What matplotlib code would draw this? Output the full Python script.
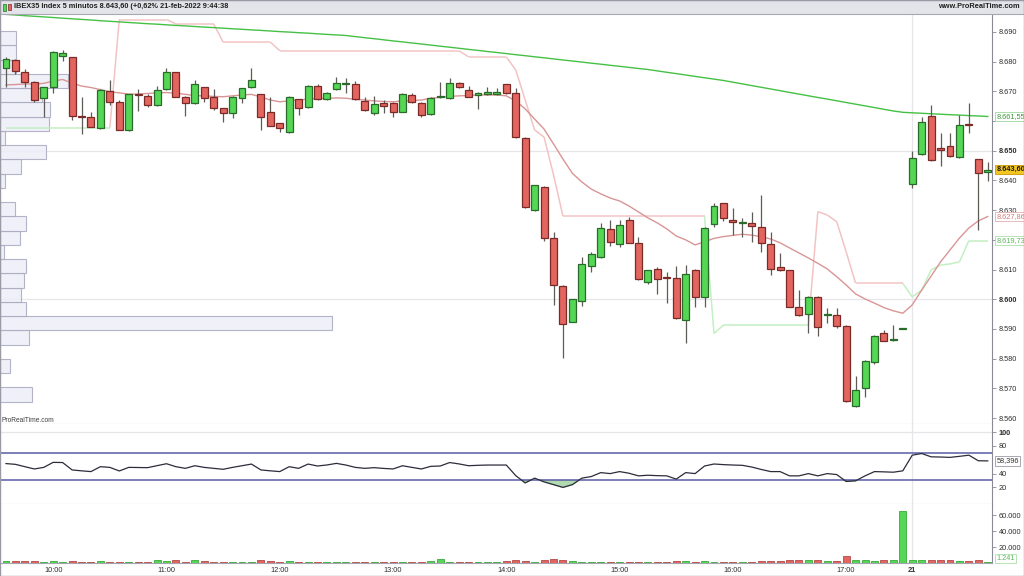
import matplotlib
matplotlib.use("Agg")
import matplotlib.pyplot as plt
import matplotlib.transforms as mtransforms
from matplotlib.patches import Rectangle
from matplotlib.collections import LineCollection
import numpy as np

# ---------------- data ----------------
opens = [8678.0, 8680.5, 8676.6, 8673.0, 8667.7, 8671.4, 8682.0, 8681.5, 8661.8, 8661.3,
         8657.6, 8670.2, 8666.3, 8657.0, 8669.2, 8668.5, 8665.4, 8670.7, 8676.4, 8668.2,
         8666.0, 8671.4, 8668.0, 8664.3, 8662.6, 8667.7, 8671.4, 8669.0, 8663.0, 8659.3,
         8656.4, 8667.4, 8664.6, 8671.8, 8667.3, 8670.7, 8672.5, 8672.5, 8666.9, 8662.6,
         8666.0, 8666.2, 8663.2, 8668.8, 8666.2, 8662.3, 8668.0, 8667.7, 8672.9, 8670.5,
         8668.8, 8669.0, 8669.1, 8672.4, 8669.4, 8654.4, 8629.9, 8637.9, 8620.5, 8604.6,
         8592.5, 8599.5, 8611.3, 8614.4, 8623.7, 8618.6, 8626.7, 8618.9, 8605.8, 8610.3,
         8607.5, 8607.1, 8593.0, 8609.7, 8600.9, 8625.3, 8632.3, 8626.7, 8625.8, 8625.8,
         8624.4, 8618.6, 8610.7, 8609.7, 8597.5, 8594.9, 8600.9, 8594.6, 8594.7, 8591.1,
         8564.2, 8570.0, 8579.0, 8588.8, 8586.2, 8590.0, 8638.7, 8648.9, 8661.7, 8650.8,
         8651.6, 8648.0, 8658.8, 8647.1, 8642.8]
highs = [8681.5, 8681.0, 8677.4, 8673.5, 8671.6, 8683.6, 8684.0, 8681.7, 8668.0, 8663.2,
         8670.7, 8673.8, 8667.1, 8669.1, 8670.7, 8669.0, 8671.8, 8677.8, 8676.6, 8668.5,
         8673.8, 8671.6, 8670.7, 8664.5, 8668.3, 8671.3, 8677.8, 8669.2, 8668.2, 8659.5,
         8668.3, 8667.6, 8672.0, 8672.4, 8669.8, 8675.0, 8674.4, 8673.6, 8668.2, 8668.5,
         8667.1, 8666.5, 8669.6, 8669.3, 8666.5, 8668.0, 8673.3, 8674.4, 8673.2, 8671.8,
         8669.8, 8671.4, 8671.0, 8672.6, 8671.0, 8654.5, 8638.6, 8638.0, 8622.6, 8604.8,
         8600.2, 8614.4, 8615.8, 8625.8, 8626.7, 8626.7, 8627.8, 8621.1, 8610.0, 8610.8,
         8609.1, 8611.2, 8611.5, 8610.2, 8624.2, 8632.3, 8632.5, 8630.6, 8627.3, 8629.3,
         8635.1, 8622.8, 8615.5, 8610.0, 8603.1, 8601.0, 8601.2, 8597.0, 8597.0, 8591.3,
         8574.2, 8579.5, 8588.0, 8589.7, 8591.3, 8590.0, 8649.9, 8661.3, 8665.4, 8655.9,
         8655.9, 8662.0, 8666.2, 8647.3, 8646.3]
lows = [8671.5, 8676.0, 8671.5, 8666.5, 8661.5, 8669.5, 8680.2, 8660.4, 8655.7, 8658.0,
        8657.5, 8665.4, 8657.0, 8656.8, 8663.5, 8664.8, 8665.2, 8670.5, 8668.0, 8661.7,
        8665.8, 8666.5, 8663.7, 8659.8, 8661.0, 8666.2, 8671.0, 8657.0, 8658.3, 8656.4,
        8656.0, 8662.0, 8664.4, 8667.0, 8667.0, 8670.5, 8669.4, 8667.0, 8663.5, 8662.0,
        8662.8, 8661.3, 8663.0, 8666.0, 8661.3, 8662.0, 8667.8, 8667.5, 8671.3, 8668.0,
        8664.0, 8668.8, 8668.8, 8669.0, 8654.3, 8630.8, 8629.7, 8619.7, 8598.0, 8580.1,
        8592.3, 8597.7, 8609.3, 8614.0, 8618.0, 8617.5, 8619.0, 8606.5, 8605.3, 8601.8,
        8598.6, 8593.4, 8585.4, 8597.5, 8597.3, 8624.2, 8626.5, 8621.6, 8621.1, 8619.4,
        8616.0, 8608.2, 8609.6, 8597.3, 8594.5, 8588.6, 8587.5, 8591.9, 8590.2, 8565.5,
        8563.8, 8567.2, 8578.1, 8586.0, 8586.0, 8590.0, 8637.4, 8648.5, 8646.5, 8645.0,
        8647.8, 8647.5, 8655.9, 8623.3, 8639.8]
closes = [8681.0, 8677.0, 8673.3, 8667.0, 8671.4, 8683.4, 8683.0, 8661.7, 8661.5, 8658.1,
          8670.5, 8666.3, 8657.0, 8669.0, 8669.0, 8665.4, 8670.5, 8676.4, 8668.2, 8666.0,
          8672.4, 8667.9, 8664.3, 8662.8, 8668.0, 8671.0, 8673.8, 8661.3, 8658.5, 8657.6,
          8668.0, 8664.3, 8671.8, 8667.3, 8669.6, 8672.7, 8672.8, 8667.3, 8663.7, 8665.6,
          8665.0, 8663.0, 8669.0, 8666.3, 8662.0, 8667.7, 8668.5, 8672.9, 8671.6, 8668.2,
          8669.4, 8669.8, 8669.8, 8669.4, 8654.5, 8631.0, 8638.4, 8620.5, 8604.8, 8591.7,
          8600.0, 8611.8, 8615.3, 8623.9, 8619.2, 8625.0, 8619.1, 8606.7, 8609.7, 8606.7,
          8607.3, 8593.6, 8608.5, 8600.9, 8623.9, 8631.4, 8627.3, 8625.9, 8625.9, 8624.7,
          8618.9, 8610.2, 8609.8, 8597.5, 8594.7, 8600.7, 8590.6, 8594.9, 8591.1, 8565.8,
          8569.5, 8579.3, 8587.8, 8586.1, 8586.4, 8590.0, 8647.5, 8659.7, 8646.8, 8650.2,
          8648.2, 8658.7, 8658.6, 8642.6, 8643.6]

ma_long = [8695.93, 8695.72, 8695.49, 8695.29, 8695.08, 8694.88, 8694.65, 8694.44, 8694.24, 8694.04,
           8693.80, 8693.60, 8693.40, 8693.20, 8693.00, 8692.79, 8692.63, 8692.42, 8692.22, 8692.05,
           8691.85, 8691.65, 8691.48, 8691.28, 8691.08, 8690.91, 8690.71, 8690.54, 8690.34, 8690.13,
           8689.97, 8689.76, 8689.60, 8689.39, 8689.19, 8689.02, 8688.82, 8688.45, 8688.08, 8687.74,
           8687.37, 8687.00, 8686.67, 8686.30, 8685.96, 8685.59, 8685.22, 8684.88, 8684.51, 8684.14,
           8683.80, 8683.43, 8683.10, 8682.73, 8682.36, 8682.02, 8681.65, 8681.31, 8680.94, 8680.57,
           8680.24, 8679.87, 8679.50, 8679.16, 8678.79, 8678.45, 8678.08, 8677.71, 8677.37, 8676.90,
           8676.43, 8675.99, 8675.52, 8675.05, 8674.58, 8674.14, 8673.67, 8673.10, 8672.53, 8671.95,
           8671.38, 8670.81, 8670.24, 8669.66, 8669.09, 8668.52, 8667.95, 8667.41, 8666.84, 8666.26,
           8665.69, 8665.12, 8664.55, 8663.97, 8663.40, 8662.96, 8662.79, 8662.63, 8662.46, 8662.32,
           8662.15, 8662.02, 8661.85, 8661.72, 8661.55]
ma_short = [8672.2, 8672.3, 8672.5, 8672.5, 8672.7, 8673.5, 8674.0, 8672.8, 8671.8, 8671.3,
            8670.6, 8669.9, 8669.5, 8669.1, 8669.1, 8669.3, 8669.5, 8669.6, 8669.4, 8669.0,
            8668.6, 8668.5, 8668.3, 8668.2, 8668.5, 8668.8, 8669.0, 8668.1, 8667.1, 8666.5,
            8666.8, 8667.1, 8667.4, 8667.6, 8667.7, 8667.8, 8667.7, 8667.3, 8667.1, 8666.8,
            8666.6, 8666.5, 8666.8, 8666.9, 8667.1, 8667.7, 8668.0, 8668.3, 8668.5, 8668.6,
            8668.8, 8668.8, 8668.8, 8668.5, 8666.8, 8664.1, 8660.7, 8657.3, 8652.3, 8647.2,
            8642.4, 8639.5, 8637.1, 8635.5, 8634.1, 8633.1, 8631.4, 8629.4, 8627.4, 8625.7,
            8623.7, 8621.3, 8620.0, 8618.3, 8619.4, 8620.5, 8621.1, 8621.5, 8621.9, 8621.6,
            8621.1, 8620.3, 8619.0, 8617.3, 8615.6, 8613.9, 8612.1, 8610.2, 8607.6, 8604.8,
            8601.8, 8600.1, 8598.7, 8597.2, 8596.1, 8595.3, 8598.1, 8603.1, 8607.8, 8612.6,
            8616.6, 8620.6, 8624.0, 8626.4, 8627.86]
stop = [8657.8, 8657.8, 8657.8, 8657.8, 8657.8, 8657.8, 8657.8, 8657.8, 8657.8, 8657.8,
        8657.8, 8657.8, 8694.2, 8694.2, 8694.2, 8694.2, 8694.2, 8694.2, 8692.7, 8692.7,
        8692.7, 8692.7, 8692.7, 8686.6, 8686.6, 8686.6, 8686.6, 8686.6, 8686.6, 8683.7,
        8683.7, 8683.7, 8683.7, 8683.7, 8683.7, 8683.7, 8683.7, 8683.7, 8683.7, 8683.7,
        8683.7, 8683.7, 8683.7, 8683.7, 8683.7, 8683.7, 8683.7, 8683.7, 8683.7, 8681.6,
        8681.6, 8681.6, 8681.6, 8681.6, 8677.2, 8667.1, 8657.0, 8654.6, 8641.9, 8628.0,
        8628.0, 8628.0, 8628.0, 8628.0, 8628.0, 8628.0, 8628.0, 8628.0, 8628.0, 8628.0,
        8628.0, 8628.0, 8628.0, 8628.0, 8628.0, 8588.5, 8591.3, 8591.3, 8591.3, 8591.3,
        8591.3, 8591.3, 8591.3, 8591.3, 8591.3, 8591.3, 8629.5, 8628.4, 8626.1, 8616.0,
        8605.4, 8605.4, 8605.4, 8605.4, 8605.4, 8605.4, 8600.8, 8603.1, 8609.9, 8611.5,
        8611.9, 8612.6, 8619.73, 8619.73, 8619.73]
rsi = [54.5, 53.4, 50.0, 46.7, 49.0, 56.3, 56.0, 45.3, 44.0, 42.9,
       50.0, 49.0, 43.8, 49.0, 48.8, 48.6, 51.5, 54.3, 50.0, 47.6,
       51.4, 49.0, 47.6, 46.2, 49.0, 51.4, 53.8, 45.3, 44.0, 42.9,
       50.0, 47.6, 53.8, 51.0, 52.5, 54.8, 52.4, 49.0, 47.6, 48.6,
       47.5, 46.7, 51.4, 49.0, 46.7, 50.5, 51.0, 56.0, 54.0, 51.4,
       52.0, 52.4, 52.4, 52.4, 37.0, 26.5, 33.4, 28.0, 24.0, 20.0,
       24.0, 33.4, 35.7, 41.4, 40.0, 42.9, 40.5, 36.7, 37.6, 37.0,
       36.7, 32.0, 41.4, 40.0, 51.0, 53.9, 53.0, 52.4, 52.0, 49.5,
       46.0, 42.9, 42.9, 36.7, 36.7, 40.0, 36.7, 40.0, 38.6, 28.6,
       29.5, 36.7, 42.9, 42.5, 42.0, 44.0, 66.7, 69.1, 64.3, 64.0,
       63.5, 65.0, 66.7, 58.6, 58.396]
volume = [2500, 2800, 2500, 2600, 1500, 2500, 1500, 2800, 1500, 1800,
          2000, 1800, 1600, 1500, 1200, 1500, 3500, 2000, 3600, 1800,
          3500, 2000, 1800, 1500, 1500, 1500, 1800, 4200, 3000, 1500,
          2000, 1500, 1600, 1500, 900, 1200, 800, 1500, 1500, 1400,
          1500, 1500, 1500, 1500, 1800, 2000, 4800, 1800, 1500, 1500,
          1200, 1500, 1500, 2000, 3500, 2200, 1800, 3800, 4500, 4200,
          2500, 1800, 1500, 1500, 1200, 1500, 1500, 1200, 1200, 1200,
          1200, 2500, 2600, 1800, 2500, 1500, 1200, 1200, 1000, 1200,
          2500, 2500, 2000, 3500, 3300, 3300, 3300, 2500, 2500, 8500,
          3200, 3200, 3000, 3200, 3400, 65400, 3500, 4000, 4200, 3200,
          3300, 2200, 2200, 4000, 1241]

# volume-by-price profile (bin lower edge, volume in thousands)
profile_levels = [8565.5, 8570.3, 8575.1, 8579.9, 8584.7, 8589.5, 8594.3, 8599.1, 8603.9, 8608.7,
                  8613.5, 8618.3, 8623.1, 8627.9, 8632.7, 8637.5, 8642.3, 8647.1, 8651.9, 8656.7,
                  8661.5, 8666.3, 8671.1, 8675.9, 8680.7, 8685.5]
profile_vol = [6.7, 0.0, 2.1, 0.0, 6.1, 69.7, 5.5, 4.4, 5.0, 5.5,
               0.8, 4.2, 5.5, 3.2, 0.0, 1.0, 4.4, 9.7, 1.0, 10.3, 10.5, 8.8,
               14.3, 3.4, 3.4, 3.4]

time_ticks = [5, 17, 29, 41, 53, 65, 77, 89, 96]
time_labels = ["10:00", "11:00", "12:00", "13:00", "14:00", "15:00", "16:00", "17:00", "21"]
price_ticks = [8560, 8570, 8580, 8590, 8600, 8610, 8620, 8630, 8640, 8650, 8660, 8670, 8680, 8690]
price_hidden = [8620, 8660]   # covered by the value tags in the reference
rsi_ticks = [20, 40, 80, 100]
vol_ticks = [20000, 40000, 60000]

title_text = "IBEX35 Index 5 minutos 8.643,60 (+0,62% 21-feb-2022 9:44:38"

# ---------------- helpers ----------------
def es(v, dec):
    s = f"{v:,.{dec}f}"
    return s.replace(",", "#").replace(".", ",").replace("#", ".")

W, H = 1024, 576
def fx(px): return px / W
def fy(py): return 1 - py / H

GREEN_F, GREEN_E = "#55d655", "#2a6a2a"
RED_F, RED_E = "#e36560", "#7a2b28"
GRID = "#e6e6ea"
AXC = "#8a8a96"
TXT = "#2e2e2e"
FS = 5.3

plt.rcParams["font.family"] = ["Liberation Sans", "DejaVu Sans"]

fig = plt.figure(figsize=(10.24, 5.76), dpi=100)
fig.patch.set_facecolor("white")

ax = fig.add_axes([0, fy(424), fx(992), fy(14) - fy(424)])
ax_r = fig.add_axes([0, fy(504), fx(992), fy(424) - fy(504)], sharex=ax)
ax_v = fig.add_axes([0, fy(563), fx(992), fy(504) - fy(563)], sharex=ax)

n = len(closes)
x = np.arange(n)
o = np.array(opens); h = np.array(highs); l = np.array(lows); c = np.array(closes)
up = c >= o

px_per_bar = 9.44
xmin = -6 / px_per_bar
xmax = (992 - 6) / px_per_bar
ax.set_xlim(xmin, xmax)
ax.set_ylim(8558.0, 8696.06)

for a in (ax, ax_r, ax_v):
    a.set_facecolor("white")
    for s in ("left", "top"):
        a.spines[s].set_visible(False)
    a.spines["right"].set_color(AXC)
    a.spines["right"].set_linewidth(0.8)
    a.spines["bottom"].set_color("#a4a4b0")
    a.spines["bottom"].set_linewidth(0.8)
    a.yaxis.tick_right()
    a.tick_params(axis="y", direction="out", length=3, width=0.6, color=AXC,
                  labelcolor=TXT, labelsize=FS, pad=2)
    a.tick_params(axis="x", length=0, labelbottom=False)
    a.axvline(96, color=GRID, lw=0.9, zorder=0)

# ---- price panel ----
for pv in (8600, 8650):
    ax.axhline(pv, color=GRID, lw=0.9, zorder=0)

# volume profile
step = profile_levels[1] - profile_levels[0]
prof_scale = (332 / px_per_bar) / max(profile_vol)
pw = np.array(profile_vol) * prof_scale
mask = pw > 0
ax.barh(np.array(profile_levels)[mask] + step / 2, pw[mask], height=step, left=xmin,
        color="#eeeef8", edgecolor="#a9a9bf", linewidth=0.8, zorder=1, alpha=0.85)

# stop line (pink above price, green below)
pts = np.column_stack([x, stop])
segs = [pts[i:i + 2] for i in range(n - 1)]
seg_cols = ["#f3c3c3" if stop[i + 1] > closes[i + 1] else "#c3efc3" for i in range(n - 1)]
ax.add_collection(LineCollection(segs, colors=seg_cols, linewidths=1.1, zorder=2))

ax.plot(x, ma_long, color="#45c045", lw=1.0, zorder=2)
ax.plot(x, ma_short, color="#d99595", lw=1.0, zorder=2)

# candles
ax.vlines(x, l, h, color="#5e5a55", lw=0.9, zorder=3)
bh = np.abs(c - o)
mid = (c + o) / 2
bh_draw = np.maximum(bh, 0.35)
ax.bar(x, bh_draw, 0.74, bottom=mid - bh_draw / 2,
       color=np.where(up, GREEN_F, RED_F), edgecolor=np.where(up, GREEN_E, RED_E),
       linewidth=0.9, zorder=4)

ax.set_yticks(price_ticks)
ax.set_yticklabels(["" if p in price_hidden else es(p, 0) for p in price_ticks])
for t, p in zip(ax.get_yticklabels(), price_ticks):
    if p in (8600, 8650):
        t.set_fontweight("bold")

def tag(a, yval, text, fc, ec, tc, bold=False):
    tr = mtransforms.blended_transform_factory(a.transAxes, a.transData)
    a.text(1.0045, yval, text, transform=tr, fontsize=FS, color=tc, va="center", ha="left",
           fontweight="bold" if bold else "normal", clip_on=False, zorder=20,
           bbox=dict(boxstyle="square,pad=0.15", fc=fc, ec=ec, lw=0.6))

tag(ax, ma_long[-1], es(ma_long[-1], 2), "white", "#9ad89a", "#3a9a3a")
tag(ax, closes[-1], es(closes[-1], 2), "#f3c623", "#c99a00", "#1a1a1a", bold=True)
tag(ax, ma_short[-1], es(ma_short[-1], 2), "white", "#e2b0b0", "#d07a7a")
tag(ax, stop[-1], es(stop[-1], 2), "white", "#a8e0a8", "#5ab85a")

# ---- RSI panel ----
rs = np.array(rsi)
ax_r.set_ylim(-4.1, 111.9)
ax_r.axhline(100, color=GRID, lw=0.9, zorder=0)
ax_r.fill_between(x, rs, 30, where=rs < 30, interpolate=True, color="#a9d6a9", alpha=0.9, zorder=1)
ax_r.axhline(70, color="#5b5ba6", lw=1.1, zorder=2)
ax_r.axhline(30, color="#5b5ba6", lw=1.1, zorder=2)
ax_r.plot(x, rs, color="#2c2c3c", lw=0.9, zorder=3)
ax_r.set_yticks(rsi_ticks)
ax_r.set_yticklabels([str(v) for v in rsi_ticks])
for t, v in zip(ax_r.get_yticklabels(), rsi_ticks):
    if v == 100:
        t.set_fontweight("bold")
tag(ax_r, rsi[-1], es(rsi[-1], 3), "white", "#9a9aa6", "#333333")

# ---- volume panel ----
vol = np.array(volume)
ax_v.set_ylim(0, 73750)
ax_v.bar(x, vol, 0.74, color=np.where(up, GREEN_F, RED_F),
         edgecolor=np.where(up, "#3aa83a", "#b24a46"), linewidth=0.6, zorder=3)
ax_v.set_yticks(vol_ticks)
ax_v.set_yticklabels([es(v, 0) for v in vol_ticks])
tag(ax_v, 5600, es(volume[-1], 0), "white", "#a8e0a8", "#5ab85a")

ax_v.tick_params(axis="x", labelbottom=True, labelsize=FS, labelcolor=TXT, pad=3)
ax_v.set_xticks(time_ticks)
ax_v.set_xticklabels(time_labels)
for t, lab in zip(ax_v.get_xticklabels(), time_labels):
    if lab == "21":
        t.set_fontweight("bold")
ax_v.set_xlim(xmin, xmax)

# ---- header / frame ----
fig.patches.append(Rectangle((0, fy(14)), 1, 14 / H, transform=fig.transFigure,
                             facecolor="#e3e4ea", edgecolor="#a8a8b4", lw=0.8, zorder=0))
fig.patches.append(Rectangle((fx(3), fy(11)), 3 / W, 7 / H, transform=fig.transFigure,
                             facecolor=GREEN_F, edgecolor=GREEN_E, lw=0.5))
fig.patches.append(Rectangle((fx(7.5), fy(10)), 3 / W, 6 / H, transform=fig.transFigure,
                             facecolor=RED_F, edgecolor=RED_E, lw=0.5))
fig.text(fx(14), fy(7), title_text, fontsize=5.3, fontweight="bold", color="#202020",
         va="center", ha="left")
fig.text(fx(1020), fy(7), "www.ProRealTime.com", fontsize=5.3, fontweight="bold",
         color="#202020", va="center", ha="right")
fig.text(fx(2), fy(420), "ProRealTime.com", fontsize=4.8, color="#404040", va="center", ha="left")
fig.patches.append(Rectangle((0, 0), 1, 1, transform=fig.transFigure, fill=False,
                             edgecolor="#9a9aa4", lw=1.0))

fig.savefig("out.png", dpi=100, facecolor="white")
